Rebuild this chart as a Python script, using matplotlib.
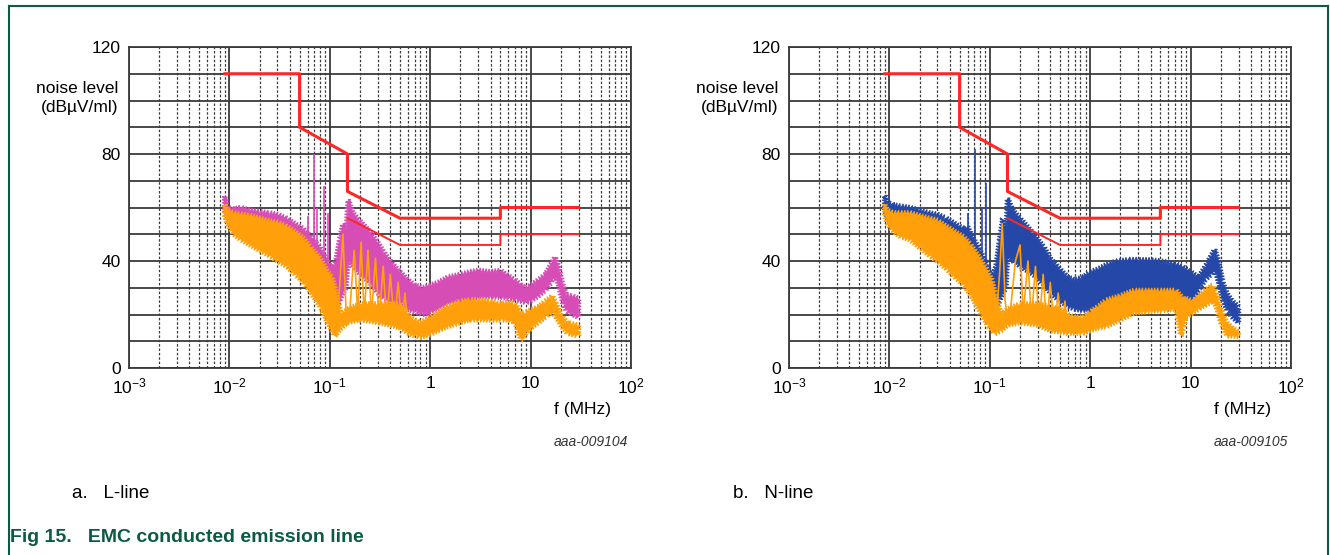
import numpy as np
import matplotlib.pyplot as plt
from matplotlib.lines import Line2D

plt.rcParams['font.family'] = ['Liberation Sans', 'DejaVu Sans']

# limit lines (quasi-peak and average)
qp_f = [0.009, 0.05, 0.05, 0.15, 0.15, 0.5, 5, 5, 30]
qp_y = [110, 110, 90, 80, 66, 56, 56, 60, 60]
av_f = [0.15, 0.5, 5, 5, 30]
av_y = [56, 46, 46, 50, 50]

# L-line, peak trace (magenta band)
l_pk_f = [0.009, 0.0095, 0.011, 0.013, 0.016, 0.02, 0.025, 0.03, 0.037, 0.045, 0.055, 0.065,
          0.08, 0.095, 0.105, 0.115, 0.125, 0.135, 0.145, 0.152, 0.17, 0.2, 0.25, 0.3, 0.35,
          0.42, 0.5, 0.6, 0.7, 0.85, 1.0, 1.2, 1.5, 2.0, 2.5, 3.0, 4.0, 5.0, 6.0, 7.0, 8.0,
          9.0, 10, 12, 14, 16, 17.5, 19, 21, 23, 26, 30]
l_pk_hi = [64, 60, 59.5, 60, 59, 58.5, 58, 57.5, 56, 54, 52, 49,
           45, 40, 37, 40, 48, 54, 50, 63, 58, 55, 51, 47, 43,
           39, 36, 33, 31, 30, 31, 32, 34, 35, 36, 36.5, 36, 36.5, 34.5, 33, 31,
           30, 31, 33, 35, 39, 41.5, 38, 31, 27, 27, 26]
l_pk_lo = [58, 55, 55, 53, 52, 51, 50, 48, 46, 43, 40, 37,
           33, 28, 24, 22, 25, 28, 30, 40, 38, 35, 32, 28, 26,
           24, 24, 22, 21, 20, 20.5, 22, 24, 25, 26, 26.5, 26.5, 26.5, 26, 25.5, 25,
           24.5, 25, 27, 29, 32, 35, 31, 24, 21, 20, 19]
l_spk_f = [0.06, 0.069, 0.075, 0.087, 0.095]
l_spk_top = [57, 80, 60, 68, 58]

# L-line, average trace (orange band + ringing)
l_av_f = [0.009, 0.0095, 0.011, 0.013, 0.016, 0.02, 0.025, 0.03, 0.037, 0.045, 0.055, 0.065,
          0.08, 0.095, 0.105, 0.113, 0.13, 0.15, 0.2, 0.3, 0.4, 0.5, 0.6, 0.7, 0.8, 1.0,
          1.2, 1.5, 2.0, 2.5, 3.0, 4.0, 5.0, 6.0, 7.0, 8.0, 8.5, 9.0, 10.5, 12, 14, 16.5,
          18, 20, 23, 26, 30]
l_av_hi = [61, 59, 58, 57.5, 57, 56, 55, 54.5, 53, 51, 48.5, 45,
           41, 36, 34, 30, 20, 22, 24, 24, 24, 24, 20, 18, 17, 19,
           21, 23, 25, 25.5, 25.5, 25, 24, 24.5, 24, 21, 20, 21, 22, 23, 25, 27,
           24, 20, 17, 16.5, 16]
l_av_lo = [57, 54, 50, 48, 46, 44, 42, 40, 38, 35, 32, 28,
           23, 17, 14, 12, 15, 17, 18, 17, 16, 15, 13, 12, 11.5, 12.5,
           14, 15.5, 17, 18, 18, 18, 18, 18, 17, 10.5, 11, 13, 15.5, 17, 19, 21,
           19, 16, 13, 12.5, 12]
l_ring_f = [0.105, 0.113, 0.125, 0.135, 0.145, 0.155, 0.175, 0.19, 0.205, 0.22, 0.24, 0.26,
            0.285, 0.31, 0.34, 0.37, 0.40, 0.44, 0.48, 0.52, 0.56, 0.6]
l_ring_y = [14, 12, 30, 50, 22, 17, 44, 20, 47, 19, 44, 19,
            41, 18, 38, 17, 35, 17, 32, 16, 28, 15]

# N-line, peak trace (blue band)
n_pk_f = [0.009, 0.0095, 0.011, 0.013, 0.016, 0.02, 0.025, 0.03, 0.037, 0.045, 0.055, 0.06,
          0.065, 0.08, 0.095, 0.105, 0.115, 0.125, 0.135, 0.145, 0.15, 0.17, 0.2, 0.27,
          0.35, 0.4, 0.5, 0.6, 0.7, 0.85, 1.0, 1.2, 1.5, 1.86, 2.5, 3.0, 4.0, 5.0, 6.0,
          7.0, 8.4, 10, 12, 14, 16, 17.4, 19, 21, 23, 26, 30]
n_pk_hi = [64.5, 62, 61, 60.5, 60, 59, 58, 57.5, 56, 54, 52, 53,
           50, 44, 38, 34, 38, 48, 56, 48, 63.5, 59, 56, 50.5,
           45, 41, 37, 34, 33, 34, 36, 37, 39, 40, 40.5, 40.5, 40.4, 40, 39.5,
           39, 37.8, 36, 34, 38, 42, 44.4, 40, 32, 28, 25, 23]
n_pk_lo = [59, 56, 53, 51, 50, 49, 48, 47, 45, 43, 40, 39,
           37, 33, 28, 24, 22, 25, 28, 30, 42, 40, 38, 35,
           31, 28, 25, 23, 22, 21.5, 21.7, 23, 25, 26.6, 28, 28.5, 29, 28.5, 27,
           26, 25, 24.5, 29, 33, 35, 37, 32, 25, 21.7, 19, 17]
n_spk_f = [0.061, 0.071, 0.083, 0.091]
n_spk_top = [58, 82, 60, 69]

# N-line, average trace (orange band + ringing)
n_av_f = [0.009, 0.0095, 0.011, 0.013, 0.016, 0.02, 0.025, 0.03, 0.037, 0.045, 0.055, 0.065,
          0.08, 0.095, 0.105, 0.113, 0.13, 0.15, 0.2, 0.3, 0.4, 0.5, 0.6, 0.7, 0.85, 1.0,
          1.2, 1.45, 2.0, 2.7, 3.5, 5.0, 7.2, 8.0, 8.5, 9.0, 10.5, 12, 14, 16.6, 18, 20,
          23, 26, 30]
n_av_hi = [61, 59, 58, 58, 58, 57, 56, 55.3, 53, 51, 49, 46,
           41, 36, 33, 28, 20, 22, 24, 24, 23, 22, 20, 19, 19, 21,
           23, 25.4, 27, 29, 29, 29, 29, 27, 26, 26, 25, 27, 29, 31, 28, 22,
           17, 15, 13.5]
n_av_lo = [57, 54, 51, 49, 48, 45, 42, 40, 37, 34, 31, 27,
           21, 16, 14, 13, 14, 16, 17, 16, 14, 13.5, 13, 13, 13, 14,
           15, 15.5, 18, 20.5, 21, 21.5, 22, 12, 15, 19, 20.5, 22, 23.5, 25, 23, 17,
           12, 12, 11.8]
n_ring_f = [0.105, 0.113, 0.125, 0.133, 0.142, 0.155, 0.18, 0.2, 0.215, 0.24, 0.26, 0.285,
            0.31, 0.34, 0.37, 0.40, 0.44, 0.48, 0.52, 0.56, 0.6]
n_ring_y = [14, 13, 35, 54, 25, 16, 40, 46, 20, 40, 18, 38,
            16, 35, 15, 32, 14, 28, 14, 25, 13]

RED = '#ff2626'
ORANGE = '#ffa00a'
GRID = '#3a3a3a'
HAIR = (3.0, 1.5, 1.0)  # sketchy edges, the traces are dense noise in the original

fig = plt.figure(figsize=(13.3, 5.55), dpi=100)


def band(ax, f, lo, hi, col, z):
    # closed polygon: upper edge left->right, lower edge back
    xs = list(f) + list(f)[::-1]
    ys = list(hi) + list(lo)[::-1]
    p, = ax.fill(xs, ys, color=col, lw=0.8, zorder=z)
    p.set_sketch_params(*HAIR)


def draw_panel(ax, pk_f, pk_hi, pk_lo, pk_col, spk_f, spk_top, av_f_, av_hi, av_lo,
               ring_f, ring_y, code):
    ax.set_xscale('log')
    ax.set_xlim(1e-3, 1e2)
    ax.set_ylim(0, 120)

    # peak trace
    band(ax, pk_f, pk_lo, pk_hi, pk_col, 3)
    ax.vlines(spk_f, 40, spk_top, color=pk_col, lw=1.2, zorder=3)
    # average trace
    band(ax, av_f_, av_lo, av_hi, ORANGE, 4)
    ax.plot(ring_f, ring_y, color=ORANGE, lw=1.2, zorder=4)

    # limits
    ax.plot(qp_f, qp_y, color=RED, lw=2.2, zorder=5)
    ax.plot(av_f, av_y, color=RED, lw=1.4, zorder=5)

    ax.set_yticks(range(0, 121, 10))
    ax.set_yticklabels([str(v) if v % 40 == 0 else '' for v in range(0, 121, 10)])
    ax.set_xticks([1e-3, 1e-2, 1e-1, 1, 10, 100])
    ax.set_xticklabels(['$\\mathregular{10^{-3}}$', '$\\mathregular{10^{-2}}$',
                        '$\\mathregular{10^{-1}}$', '1', '10', '$\\mathregular{10^{2}}$'])
    ax.tick_params(which='both', length=0, labelsize=12.5, pad=6)
    ax.tick_params(axis='x', which='minor', labelbottom=False)
    ax.grid(which='major', axis='y', color=GRID, lw=1.3, ls='-')
    ax.grid(which='major', axis='x', color=GRID, lw=1.3, ls='-')
    ax.grid(which='minor', axis='x', color=GRID, lw=0.9, ls=(0, (2, 1.5)))
    ax.set_axisbelow(True)
    for s in ax.spines.values():
        s.set_color(GRID)
        s.set_linewidth(1.3)

    ax.text(-0.022, 0.841, 'noise level\n(dBµV/ml)', transform=ax.transAxes,
            ha='right', va='center', fontsize=12.5, linespacing=1.35)
    ax.text(0.96, -0.13, 'f (MHz)', transform=ax.transAxes, ha='right', va='center',
            fontsize=12.5)
    ax.text(0.995, -0.23, code, transform=ax.transAxes, ha='right', va='center',
            fontsize=10, style='italic', color='#333333')


ax1 = fig.add_axes([129 / 1330, 1 - 368 / 555, 502 / 1330, 321 / 555])
draw_panel(ax1, l_pk_f, l_pk_hi, l_pk_lo, '#d64db6', l_spk_f, l_spk_top,
           l_av_f, l_av_hi, l_av_lo, l_ring_f, l_ring_y, 'aaa-009104')
ax2 = fig.add_axes([789 / 1330, 1 - 368 / 555, 502 / 1330, 321 / 555])
draw_panel(ax2, n_pk_f, n_pk_hi, n_pk_lo, '#2548a8', n_spk_f, n_spk_top,
           n_av_f, n_av_hi, n_av_lo, n_ring_f, n_ring_y, 'aaa-009105')

# sub captions and figure title
fig.text(72 / 1330, 1 - 494 / 555, 'a.   L-line', fontsize=13.5, va='center')
fig.text(733 / 1330, 1 - 494 / 555, 'b.   N-line', fontsize=13.5, va='center')
fig.text(10 / 1330, 1 - 537 / 555, 'Fig 15.   EMC conducted emission line', fontsize=14,
         fontweight='bold', color='#0b5a45', va='center')

# frame
teal = '#0b5a45'
fig.add_artist(Line2D([9 / 1330, 1328 / 1330], [1 - 6 / 555, 1 - 6 / 555], color=teal, lw=1.5))
fig.add_artist(Line2D([9 / 1330, 9 / 1330], [0, 1 - 6 / 555], color=teal, lw=1.5))
fig.add_artist(Line2D([1328 / 1330, 1328 / 1330], [0, 1 - 6 / 555], color=teal, lw=1.5))

fig.savefig('out.png', dpi=100)
